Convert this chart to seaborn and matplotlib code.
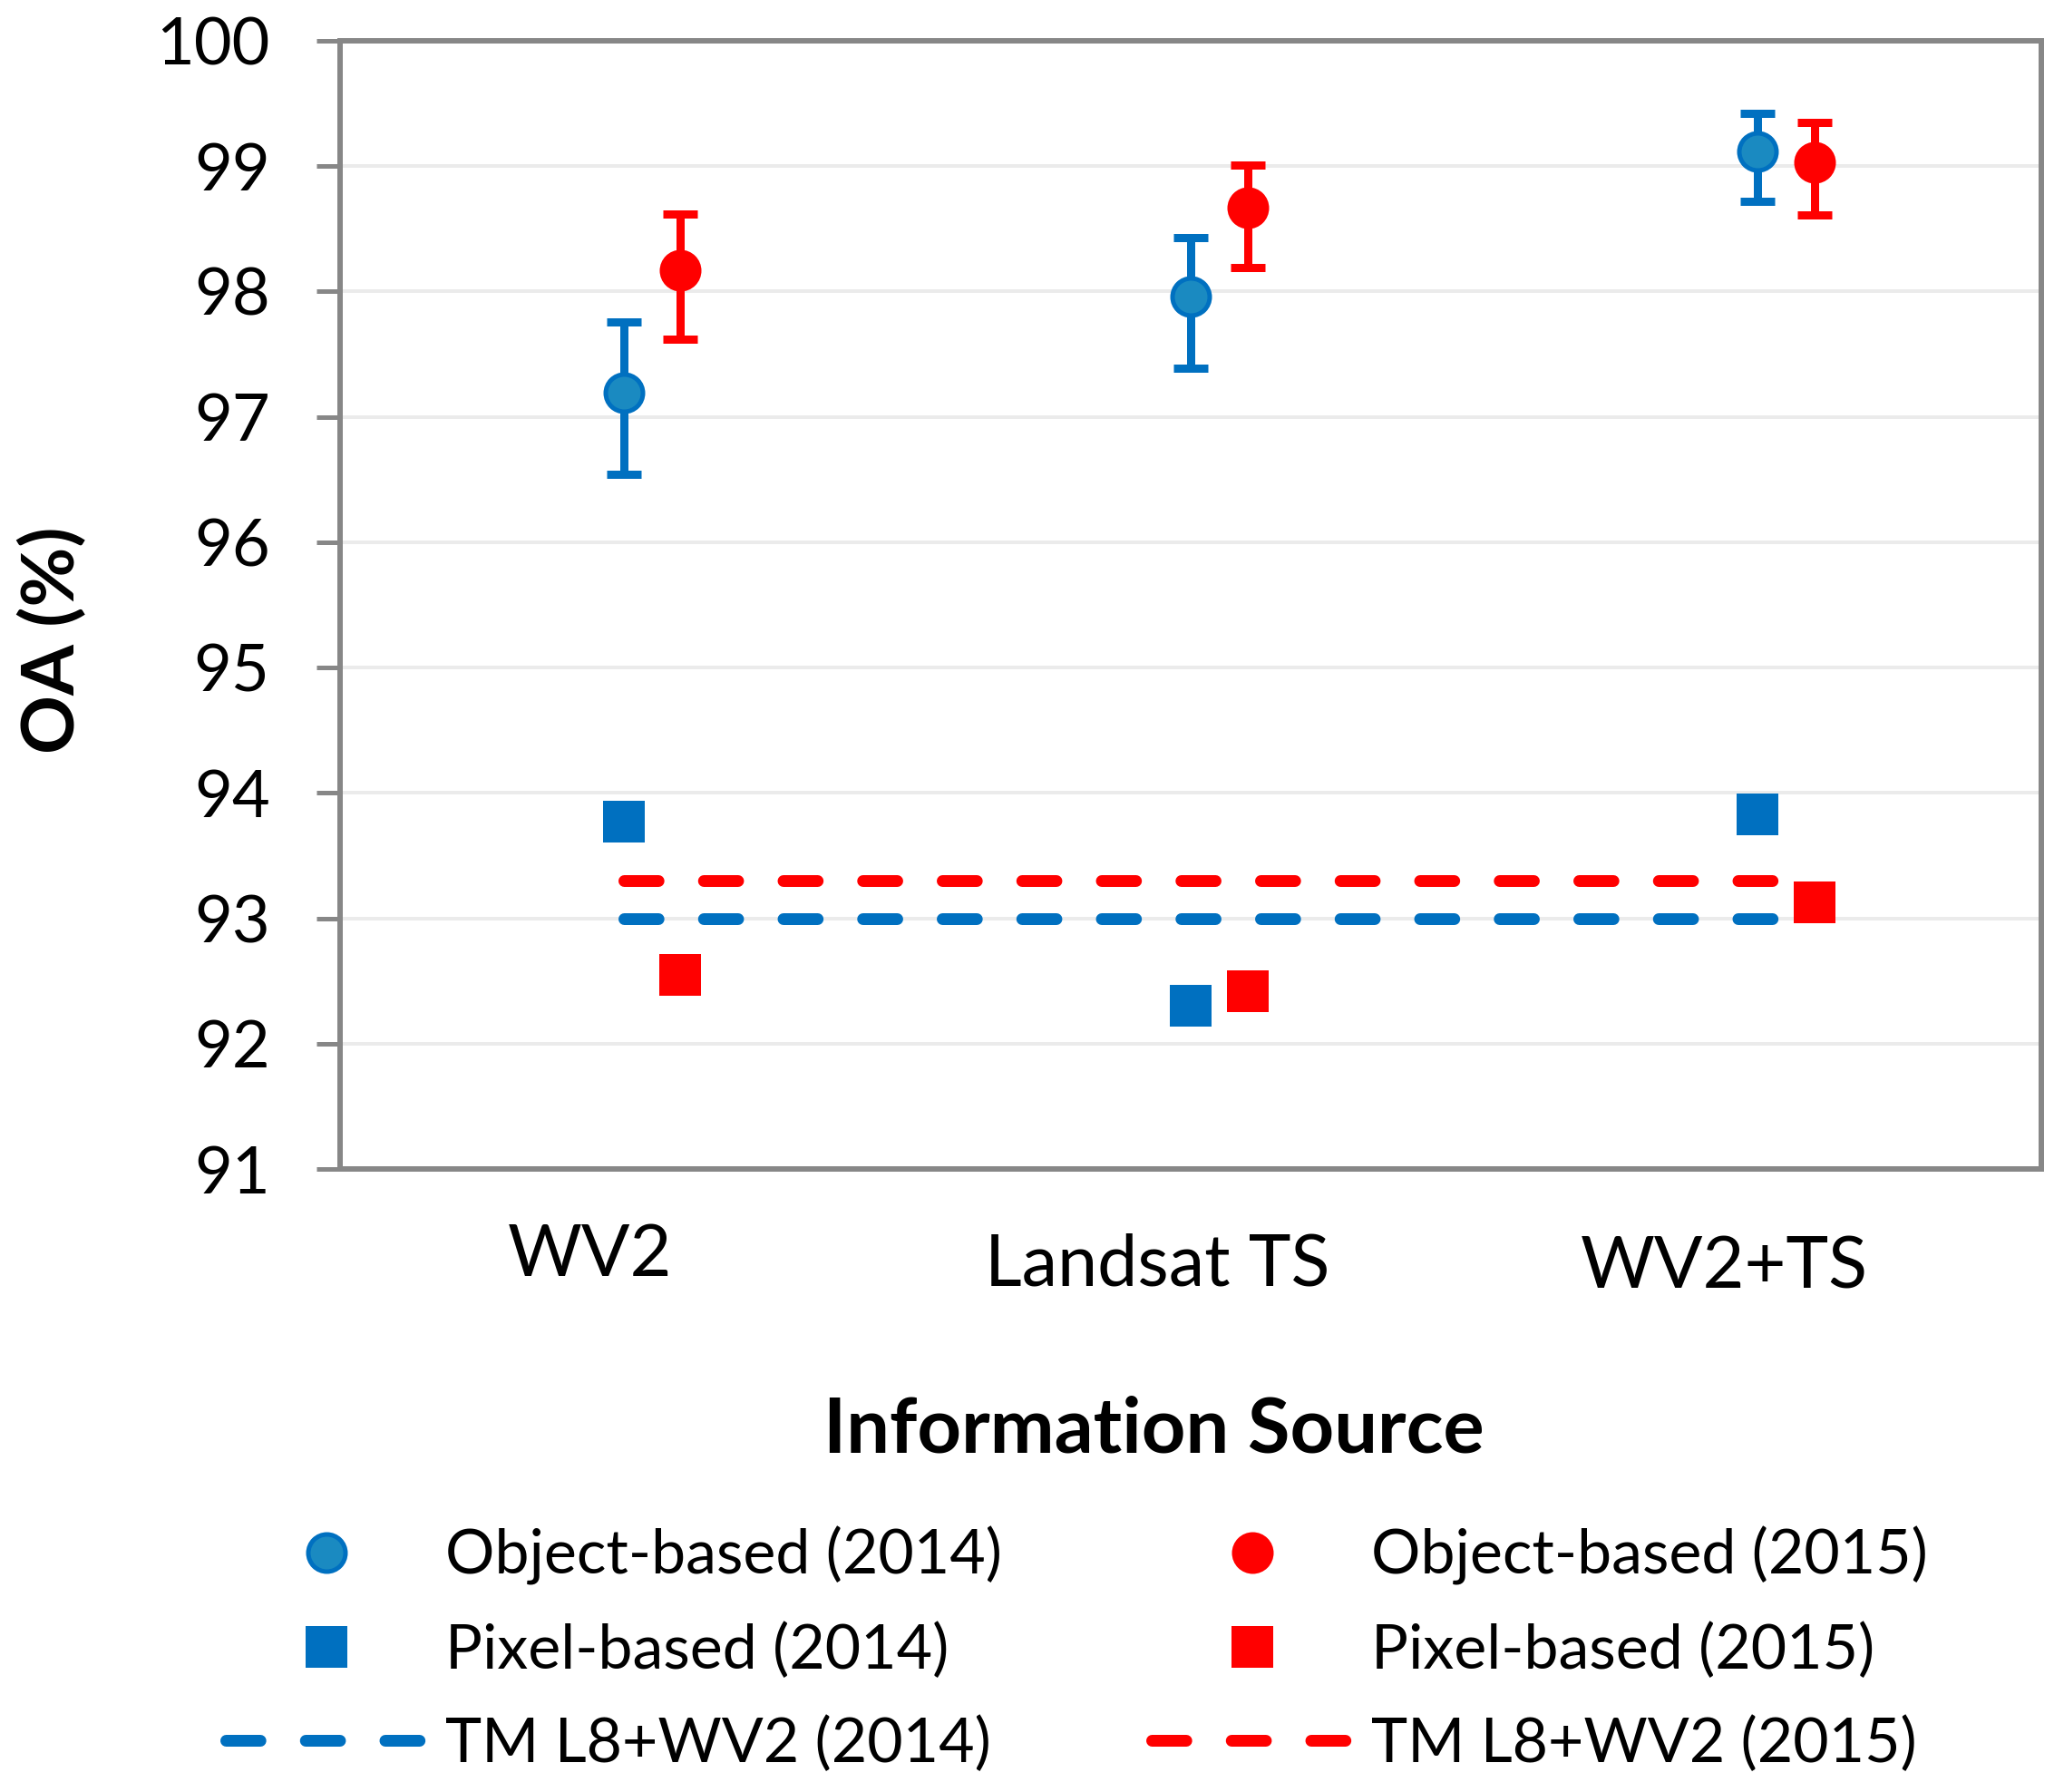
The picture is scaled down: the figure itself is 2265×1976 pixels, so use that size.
import numpy as np
import pandas as pd
import matplotlib
matplotlib.use("Agg")
import matplotlib.pyplot as plt
import matplotlib.transforms as mtransforms
from matplotlib.lines import Line2D
import seaborn as sns

# ---------------- data ----------------
categories = ['WV2', 'Landsat TS', 'WV2+TS']
obj_2014 = [97.19, 97.96, 99.12]
obj_2014_err_low = [0.65, 0.57, 0.40]
obj_2014_err_high = [0.57, 0.47, 0.30]
obj_2015 = [98.17, 98.67, 99.03]
obj_2015_err_low = [0.55, 0.48, 0.42]
obj_2015_err_high = [0.45, 0.34, 0.32]
pix_2014 = [93.77, 92.30, 93.83]
pix_2015 = [92.55, 92.42, 93.13]
tm_2014 = 93.0
tm_2015 = 93.3
y_ticks = [91, 92, 93, 94, 95, 96, 97, 98, 99, 100]

legend_labels = ['Object-based (2014)', 'Pixel-based (2014)', 'TM L8+WV2 (2014)',
                 'Object-based (2015)', 'Pixel-based (2015)', 'TM L8+WV2 (2015)']

# ---------------- style ----------------
sns.set_theme(style="white")
plt.rcParams['font.family'] = ['Lato', 'DejaVu Sans']

BLUE = '#0070C0'
BLUE_FILL = '#1A8AC1'
RED = '#FF0000'
GRID = '#EBEBEB'
SPINE = '#878787'

px = 72 / 100.0  # points per pixel at dpi 100

fig = plt.figure(figsize=(22.65, 19.76), dpi=100)
ax = fig.add_axes([375 / 2265, 1 - 1289 / 1976, (2251 - 375) / 2265, (1289 - 45) / 1976])

xpos = np.arange(len(categories))
off = 0.1

df = pd.DataFrame({
    'x14': xpos, 'x15': xpos + off,
    'obj14': obj_2014, 'obj15': obj_2015,
    'pix14': pix_2014, 'pix15': pix_2015,
})

# error bars
elw = 9 * px
cap = 38 / 2 * px
ax.errorbar(df['x14'], df['obj14'], yerr=[obj_2014_err_low, obj_2014_err_high],
            fmt='none', ecolor=BLUE, elinewidth=elw, capsize=cap, capthick=elw, zorder=3)
ax.errorbar(df['x15'], df['obj15'], yerr=[obj_2015_err_low, obj_2015_err_high],
            fmt='none', ecolor=RED, elinewidth=elw, capsize=cap, capthick=elw, zorder=3)

# dashed reference lines
dash = (2.9, 3.85)
lw_dash = 13 * px
x_line = [xpos[0], xpos[-1] + 0.03]
sns.lineplot(x=x_line, y=[tm_2015, tm_2015], ax=ax, color=RED, lw=lw_dash,
             dashes=False, zorder=2)
sns.lineplot(x=x_line, y=[tm_2014, tm_2014], ax=ax, color=BLUE, lw=lw_dash,
             dashes=False, zorder=2)
for ln in ax.lines[-2:]:
    ln.set_dashes(dash)
    ln.set_dash_capstyle('round')

# markers
circ_d = 46 * px
mew14 = 5 * px
sq = 33.5
sns.scatterplot(data=df, x='x14', y='obj14', ax=ax, marker='o', s=(circ_d - mew14) ** 2,
                color=BLUE_FILL, edgecolor=BLUE, linewidth=mew14, zorder=4)
sns.scatterplot(data=df, x='x15', y='obj15', ax=ax, marker='o', s=circ_d ** 2,
                color=RED, linewidth=0, zorder=4)
sns.scatterplot(data=df, x='x14', y='pix14', ax=ax, marker='s', s=sq ** 2,
                color=BLUE, linewidth=0, zorder=4)
sns.scatterplot(data=df, x='x15', y='pix15', ax=ax, marker='s', s=sq ** 2,
                color=RED, linewidth=0, zorder=4)

# axes
ax.set_xlim(-0.5, len(categories) - 0.5)
ax.set_ylim(y_ticks[0], y_ticks[-1])
ax.set_yticks(y_ticks)
ax.set_yticklabels([str(t) for t in y_ticks])
ax.set_xticks(xpos)
ax.set_xticklabels(categories)
ax.yaxis.grid(True, color=GRID, lw=4 * px, zorder=0)
ax.xaxis.grid(False)
ax.set_axisbelow(True)
for s in ax.spines.values():
    s.set_color(SPINE)
    s.set_linewidth(6 * px)
    s.set_visible(True)
ax.tick_params(axis='y', which='major', left=True, length=26 * px, width=5 * px,
               color=SPINE, labelsize=52, pad=37, labelcolor='black')
ax.tick_params(axis='x', which='major', bottom=False, length=0, labelsize=57, pad=43,
               labelcolor='black')
label_dy = [0, -11, -14]  # pixel offsets of the category labels
for lab, dy in zip(ax.get_xticklabels(), label_dy):
    shift = mtransforms.ScaledTranslation(-37 / 100, dy / 100, fig.dpi_scale_trans)
    lab.set_transform(lab.get_transform() + shift)

ax.set_xlabel('Information Source', fontsize=61, fontweight='bold', color='black', va='center')
ax.xaxis.set_label_coords((1272 - 375) / 1875, 1 - (1577 - 45) / 1244)
ax.set_ylabel('OA (%)', fontsize=58, fontweight='bold', color='black', va='center')
ax.yaxis.set_label_coords((58 - 375) / 1875, 1 - (706 - 45) / 1244)

# legends
def handles(year_color, fill, edge, mew):
    h_obj = Line2D([], [], ls='none', marker='o', ms=(circ_d - mew) if mew else circ_d,
                   mfc=fill, mec=edge, mew=mew)
    h_pix = Line2D([], [], ls='none', marker='s', ms=sq, mfc=year_color, mec=year_color, mew=0)
    h_tm = Line2D([], [], color=year_color, lw=lw_dash, dashes=dash, dash_capstyle='round')
    return [h_obj, h_pix, h_tm]

leg_kw = dict(frameon=False, fontsize=49, handlelength=3.25, handletextpad=0.3,
              labelspacing=0.6, borderpad=0, borderaxespad=0, loc='center left',
              bbox_transform=fig.transFigure, labelcolor='black')
leg1 = fig.legend(handles(BLUE, BLUE_FILL, BLUE, mew14), legend_labels[:3],
                  bbox_to_anchor=(249 / 2265, 1 - 1819 / 1976), **leg_kw)
leg2 = fig.legend(handles(RED, RED, RED, 0), legend_labels[3:],
                  bbox_to_anchor=(1270 / 2265, 1 - 1819 / 1976), **leg_kw)

fig.savefig('out.png', dpi=100, facecolor='white')
